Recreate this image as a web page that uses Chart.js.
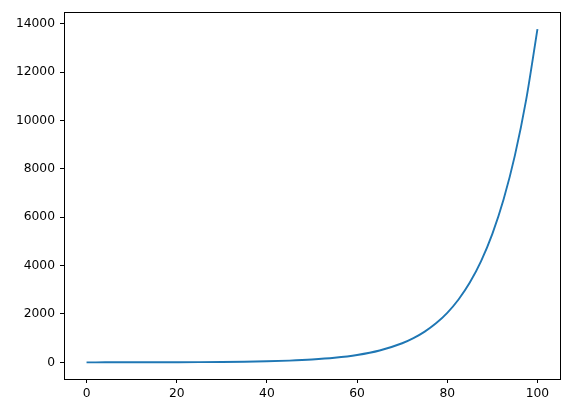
<!DOCTYPE html>
<html>
<head>
<meta charset="utf-8">
<script src="https://cdn.jsdelivr.net/npm/chart.js@4/dist/chart.umd.min.js"></script>
<style>
  html, body { margin: 0; padding: 0; background: #fff; }
  #wrap { width: 569px; height: 413px; }
</style>
</head>
<body>
<div id="wrap"><canvas id="grafico"></canvas></div>
<script>
// valores
const xValores = [0, 5, 10, 15, 20, 25, 30, 35, 40, 45, 50, 55, 60, 65, 70, 72.5, 75, 77.5, 80,
                  82.5, 85, 87.5, 90, 92.5, 95, 97.5, 100];
const yValores = [1, 1.6, 2.6, 4.2, 6.7, 10.8, 17.4, 28.1, 45.3, 72.9, 117.4, 189.1, 304.5, 490.4,
                  789.7, 1002.2, 1271.9, 1614.2, 2048.4, 2599.6, 3298.9, 4186.6, 5313.0, 6742.8,
                  8556.7, 10859.4, 13780.6];
const ticksX = [0, 20, 40, 60, 80, 100];
const ticksY = [0, 2000, 4000, 6000, 8000, 10000, 12000, 14000];

// moldura em volta da área do gráfico (estilo matplotlib)
const moldura = {
    id: 'moldura',
    afterDraw(chart) {
        const { ctx, chartArea: a } = chart;
        ctx.save();
        ctx.strokeStyle = '#000';
        ctx.lineWidth = 1;
        ctx.strokeRect(Math.round(a.left) + 0.5, Math.round(a.top) + 0.5,
                       Math.round(a.right - a.left), Math.round(a.bottom - a.top));
        ctx.restore();
    }
};

const fonte = { family: 'DejaVu Sans', size: 12.3 };

const ctx = document.getElementById('grafico').getContext('2d');
new Chart(ctx, {
    type: 'line',
    data: {
        datasets: [{
            data: xValores.map((x, i) => ({ x, y: yValores[i] })),
            borderColor: '#1f77b4',
            borderWidth: 1.9,
            pointRadius: 0,
            fill: false,
            cubicInterpolationMode: 'monotone'
        }]
    },
    options: {
        responsive: true,
        maintainAspectRatio: false,
        animation: false,
        layout: { padding: { left: 0, top: 10, right: 9, bottom: 0 } },
        plugins: { legend: { display: false }, tooltip: { enabled: false } },
        scales: {
            x: {
                type: 'linear',
                min: -5,
                max: 105,
                afterBuildTicks: s => { s.ticks = ticksX.map(v => ({ value: v })); },
                afterFit: s => { s.height = 34; },
                grid: { drawOnChartArea: false, drawTicks: true, tickLength: 4, tickColor: '#000' },
                border: { display: false },
                ticks: { color: '#000', font: fonte, padding: 3, maxRotation: 0 }
            },
            y: {
                type: 'linear',
                min: -688,
                max: 14470,
                afterBuildTicks: s => { s.ticks = ticksY.map(v => ({ value: v })); },
                afterFit: s => { s.width = 64; },
                grid: { drawOnChartArea: false, drawTicks: true, tickLength: 4, tickColor: '#000' },
                border: { display: false },
                ticks: { color: '#000', font: fonte, padding: 5, callback: v => String(v) }
            }
        }
    },
    plugins: [moldura]
});
</script>
</body>
</html>
